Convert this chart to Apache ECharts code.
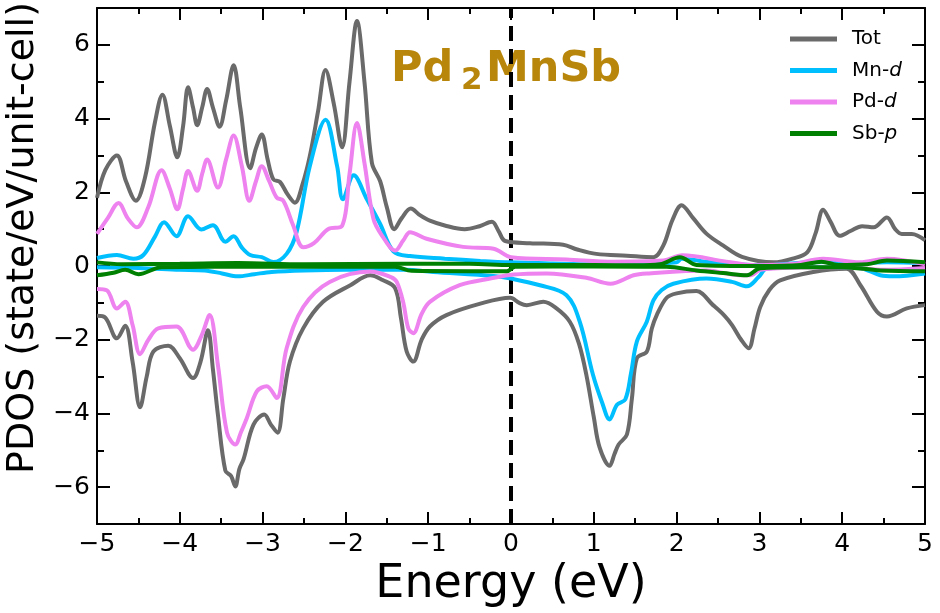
<!DOCTYPE html>
<html>
<head>
<meta charset="utf-8">
<script src="https://cdn.jsdelivr.net/npm/echarts@6/dist/echarts.min.js"></script>
<style>
    html, body { margin: 0; padding: 0; background: #fff; }
    #pdos { width: 940px; height: 613px; }
</style>
</head>
<body>
<div id="pdos"></div>
<script>
    // spin up / spin down PDOS, [energy (eV), states/eV/unit-cell]
    const totUp = [[-5.0,1.85],[-4.9,2.6],[-4.76,3.0],[-4.65,2.3],[-4.53,1.77],[-4.42,2.4],[-4.3,3.9],[-4.21,4.65],[-4.12,3.8],[-4.03,2.95],[-3.96,3.8],[-3.9,4.85],[-3.84,4.3],[-3.79,3.82],[-3.73,4.3],[-3.67,4.8],[-3.6,4.3],[-3.52,3.78],[-3.44,4.5],[-3.35,5.45],[-3.27,4.3],[-3.15,2.65],[-3.08,3.2],[-3.01,3.57],[-2.94,2.9],[-2.87,2.35],[-2.79,2.28],[-2.7,1.95],[-2.61,1.72],[-2.52,2.2],[-2.43,2.98],[-2.33,4.2],[-2.24,5.32],[-2.14,4.4],[-2.04,3.22],[-1.95,5.0],[-1.86,6.65],[-1.77,5.0],[-1.68,2.8],[-1.58,2.3],[-1.5,1.6],[-1.41,1.0],[-1.32,1.3],[-1.21,1.56],[-1.1,1.38],[-0.98,1.23],[-0.8,1.1],[-0.56,1.0],[-0.38,1.08],[-0.23,1.2],[-0.15,0.95],[-0.07,0.68],[0.23,0.62],[0.63,0.58],[0.8,0.45],[1.03,0.33],[1.4,0.28],[1.72,0.24],[1.84,0.56],[1.95,1.25],[2.06,1.65],[2.2,1.3],[2.36,0.88],[2.56,0.56],[2.79,0.25],[3.17,0.1],[3.4,0.2],[3.58,0.38],[3.68,0.9],[3.77,1.53],[3.86,1.2],[3.97,0.82],[4.1,0.95],[4.24,1.08],[4.38,1.05],[4.54,1.32],[4.64,1.0],[4.72,0.87],[4.84,0.87],[5.0,0.7]];
    const totDown = [[-5.0,-1.35],[-4.9,-1.4],[-4.76,-1.96],[-4.66,-1.62],[-4.57,-2.6],[-4.48,-3.83],[-4.4,-3.0],[-4.32,-2.32],[-4.14,-2.16],[-4.0,-2.5],[-3.84,-3.04],[-3.75,-2.6],[-3.66,-1.74],[-3.6,-2.8],[-3.54,-4.03],[-3.45,-5.55],[-3.38,-5.7],[-3.33,-5.98],[-3.28,-5.5],[-3.23,-5.24],[-3.11,-4.3],[-2.98,-4.03],[-2.9,-4.3],[-2.82,-4.52],[-2.75,-3.6],[-2.67,-2.59],[-2.51,-1.69],[-2.27,-0.97],[-1.94,-0.52],[-1.7,-0.25],[-1.55,-0.38],[-1.4,-0.6],[-1.33,-1.4],[-1.26,-2.32],[-1.18,-2.59],[-1.08,-2.0],[-0.98,-1.64],[-0.78,-1.33],[-0.37,-1.02],[-0.01,-0.86],[0.1,-1.0],[0.19,-1.06],[0.39,-0.97],[0.55,-1.15],[0.71,-1.51],[0.82,-2.1],[0.91,-2.95],[1.0,-4.1],[1.07,-4.92],[1.19,-5.42],[1.25,-5.1],[1.3,-4.84],[1.4,-4.57],[1.46,-3.6],[1.52,-2.5],[1.64,-2.32],[1.7,-1.7],[1.76,-1.33],[1.88,-0.86],[2.0,-0.74],[2.24,-0.68],[2.44,-1.06],[2.58,-1.35],[2.67,-1.6],[2.78,-2.0],[2.87,-2.23],[2.94,-1.7],[3.01,-1.11],[3.12,-0.65],[3.25,-0.39],[3.65,-0.16],[4.05,-0.07],[4.22,-0.52],[4.42,-1.24],[4.54,-1.37],[4.78,-1.15],[5.0,-1.06]];
    const mnUp = [[-5.0,0.22],[-4.76,0.3],[-4.56,0.2],[-4.44,0.3],[-4.3,0.8],[-4.19,1.19],[-4.04,0.81],[-3.9,1.35],[-3.74,0.99],[-3.6,1.11],[-3.45,0.66],[-3.35,0.81],[-3.25,0.5],[-3.15,0.3],[-3.01,0.24],[-2.87,0.11],[-2.71,0.33],[-2.59,0.92],[-2.43,2.71],[-2.24,3.97],[-2.1,2.71],[-2.03,1.81],[-1.9,2.46],[-1.74,1.81],[-1.58,1.14],[-1.42,0.4],[-1.22,0.27],[-0.8,0.2],[-0.37,0.14],[0.0,0.1],[0.5,0.07],[1.0,0.05],[1.5,0.05],[2.0,0.1],[2.06,0.2],[2.4,0.1],[3.0,0.02],[3.77,0.12],[4.2,0.08],[4.54,0.1],[5.0,0.08]];
    const mnDown = [[-5.0,-0.03],[-4.5,-0.05],[-4.0,-0.1],[-3.7,-0.12],[-3.49,-0.2],[-3.3,-0.28],[-3.1,-0.22],[-2.89,-0.16],[-2.5,-0.12],[-2.0,-0.1],[-1.28,-0.1],[-0.94,-0.16],[-0.21,-0.27],[0.0,-0.34],[0.35,-0.52],[0.67,-0.79],[0.83,-1.51],[0.99,-2.95],[1.1,-3.7],[1.19,-4.16],[1.28,-3.76],[1.38,-3.62],[1.45,-2.9],[1.52,-2.05],[1.64,-1.51],[1.72,-0.93],[1.82,-0.65],[1.96,-0.48],[2.36,-0.34],[2.67,-0.43],[2.85,-0.55],[2.99,-0.3],[3.09,-0.07],[3.6,-0.02],[4.2,-0.05],[4.46,-0.25],[4.62,-0.28],[5.0,-0.2]];
    const pdUp = [[-5.0,0.87],[-4.87,1.3],[-4.74,1.71],[-4.63,1.3],[-4.52,1.05],[-4.38,1.6],[-4.22,2.6],[-4.12,2.1],[-4.03,1.54],[-3.96,2.1],[-3.9,2.58],[-3.79,2.04],[-3.73,2.5],[-3.67,2.89],[-3.54,2.13],[-3.44,2.9],[-3.35,3.54],[-3.25,2.7],[-3.16,1.77],[-3.08,2.3],[-3.01,2.71],[-2.92,2.3],[-2.83,1.86],[-2.75,1.77],[-2.63,1.1],[-2.51,0.51],[-2.38,0.62],[-2.21,1.0],[-2.04,1.09],[-1.95,2.5],[-1.86,3.88],[-1.77,2.8],[-1.66,1.27],[-1.55,0.8],[-1.4,0.42],[-1.3,0.7],[-1.22,0.92],[-1.02,0.74],[-0.58,0.52],[-0.21,0.47],[0.0,0.24],[0.67,0.18],[1.24,0.12],[1.84,0.15],[2.07,0.29],[2.6,0.12],[2.96,0.02],[3.4,0.06],[3.77,0.2],[4.21,0.1],[4.54,0.2],[5.0,0.05]];
    const pdDown = [[-5.0,-0.62],[-4.88,-0.66],[-4.76,-1.15],[-4.66,-0.97],[-4.57,-1.6],[-4.48,-2.39],[-4.38,-2.0],[-4.26,-1.69],[-4.04,-1.64],[-3.84,-2.27],[-3.74,-1.9],[-3.64,-1.33],[-3.54,-2.68],[-3.43,-4.52],[-3.33,-4.84],[-3.26,-4.5],[-3.19,-4.12],[-3.07,-3.4],[-2.95,-3.26],[-2.83,-3.58],[-2.71,-2.23],[-2.51,-1.11],[-2.19,-0.43],[-1.7,-0.15],[-1.45,-0.3],[-1.38,-0.43],[-1.3,-1.0],[-1.24,-1.69],[-1.18,-1.82],[-1.08,-1.3],[-0.98,-0.97],[-0.62,-0.52],[-0.25,-0.34],[0.03,-0.23],[0.43,-0.2],[0.91,-0.32],[1.2,-0.48],[1.48,-0.25],[1.64,-0.2],[2.36,-0.12],[2.76,-0.25],[2.9,-0.25],[3.01,-0.1],[3.5,-0.04],[4.0,-0.03],[4.5,-0.1],[5.0,-0.05]];
    const sbUp = [[-5.0,0.1],[-4.7,0.05],[-4.0,0.06],[-3.3,0.08],[-2.5,0.05],[-1.3,0.06],[-0.5,0.06],[0.0,0.03],[1.0,0.03],[1.52,0.02],[1.8,0.05],[2.04,0.24],[2.24,0.03],[3.0,0.0],[3.5,0.03],[3.75,0.12],[3.95,0.03],[4.3,0.05],[4.54,0.15],[5.0,0.1]];
    const sbDown = [[-5.0,-0.25],[-4.8,-0.18],[-4.66,-0.1],[-4.5,-0.22],[-4.22,-0.03],[-3.0,-0.02],[-1.4,-0.02],[-1.2,-0.13],[-0.5,-0.14],[-0.05,-0.14],[0.05,-0.02],[1.0,-0.01],[1.88,-0.02],[2.24,-0.12],[2.56,-0.19],[2.85,-0.25],[3.01,-0.06],[3.5,-0.03],[4.0,-0.03],[4.46,-0.12],[5.0,-0.14]];
    const fermi = [[0, -7], [0, 7]];

    const legendNames = ['Tot', 'Mn-d', 'Pd-d', 'Sb-p'];
    const yMajor = [-6, -4, -2, 0, 2, 4, 6];
    const yMinor = [-7, -5, -3, -1, 1, 3, 5, 7];

    const FONT = 'DejaVu Sans';
    const minus = v => (v < 0 ? '\u2212' + (-v) : '' + v);

    function pdosLine(name, color, data) {
        return {
            name: name,
            type: 'line',
            data: data,
            smooth: 0.35,
            symbol: 'none',
            silent: true,
            lineStyle: {color: color, width: 4},
            itemStyle: {color: color}
        };
    }

    function xAx(pos, labels) {
        return {
            type: 'value', position: pos, min: -5, max: 5, interval: 1,
            axisLine: {show: true, onZero: false, lineStyle: {color: '#000', width: 2}},
            axisTick: {show: true, inside: true, length: 12, lineStyle: {color: '#000', width: 2}},
            minorTick: {show: true, splitNumber: 2, length: 6, lineStyle: {color: '#000', width: 2}},
            axisLabel: {show: labels, formatter: minus, fontSize: 25, color: '#000', fontFamily: FONT, margin: 8},
            splitLine: {show: false}
        };
    }

    function yAx(pos, vals, len, labels, line) {
        return {
            type: 'value', position: pos, min: -7, max: 7,
            axisLine: {show: line, onZero: false, lineStyle: {color: '#000', width: 2}},
            axisTick: {show: true, inside: true, length: len, customValues: vals, lineStyle: {color: '#000', width: 2}},
            axisLabel: {show: labels, customValues: yMajor, formatter: minus, fontSize: 25, color: '#000', fontFamily: FONT, margin: 7},
            splitLine: {show: false}
        };
    }

    const chart = echarts.init(document.getElementById('pdos'));
    chart.setOption({
        backgroundColor: '#fff',
        animation: false,
        grid: {left: 97, right: 15, top: 8, bottom: 86},
        legend: {
            data: legendNames,
            orient: 'vertical',
            left: 790, top: 29, padding: 0,
            icon: 'rect',
            itemWidth: 47, itemHeight: 5, itemGap: 11.5,
            formatter: n => n.replace(/-(\w)$/, '-{i|$1}'),
            textStyle: {
                fontSize: 20, fontFamily: FONT, color: '#000', padding: [0, 0, 0, 10],
                rich: {i: {fontSize: 20, fontFamily: FONT, fontStyle: 'italic', color: '#000'}}
            }
        },
        xAxis: [
            Object.assign(xAx('bottom', true), {
                name: 'Energy (eV)', nameLocation: 'middle', nameGap: 22,
                nameTextStyle: {fontSize: 46, fontFamily: FONT, color: '#000'}
            }),
            xAx('top', false)
        ],
        yAxis: [
            yAx('left', yMajor, 13, true, true),
            yAx('left', yMinor, 7, false, false),
            yAx('right', yMajor, 13, false, true),
            yAx('right', yMinor, 7, false, false)
        ],
        graphic: [
            {type: 'text', x: 23, y: 238, rotation: Math.PI / 2, z: 0,
             style: {text: 'PDOS (state/eV/unit-cell)', fontSize: 38, fontFamily: FONT, fill: '#000', align: 'center', verticalAlign: 'middle'}},
            {type: 'text', x: 391, y: 70, z: 0,
             style: {text: 'Pd', fontSize: 43, fontWeight: 'bold', fontFamily: FONT, fill: '#B8860B', align: 'left', verticalAlign: 'middle'}},
            {type: 'text', x: 461, y: 81, z: 0,
             style: {text: '2', fontSize: 31, fontWeight: 'bold', fontFamily: FONT, fill: '#B8860B', align: 'left', verticalAlign: 'middle'}},
            {type: 'text', x: 486, y: 70, z: 0,
             style: {text: 'MnSb', fontSize: 43, fontWeight: 'bold', fontFamily: FONT, fill: '#B8860B', align: 'left', verticalAlign: 'middle'}}
        ],
        series: [
            {
                type: 'line', data: fermi, symbol: 'none', silent: true, z: 1,
                lineStyle: {color: '#000', width: 4, type: [15, 8]}
            },
            pdosLine('Tot', '#6a6a6a', totUp),
            pdosLine('Tot', '#6a6a6a', totDown),
            pdosLine('Mn-d', '#00BFFF', mnUp),
            pdosLine('Mn-d', '#00BFFF', mnDown),
            pdosLine('Pd-d', '#EE82EE', pdUp),
            pdosLine('Pd-d', '#EE82EE', pdDown),
            pdosLine('Sb-p', '#008000', sbUp),
            pdosLine('Sb-p', '#008000', sbDown)
        ]
    });
</script>
</body>
</html>
